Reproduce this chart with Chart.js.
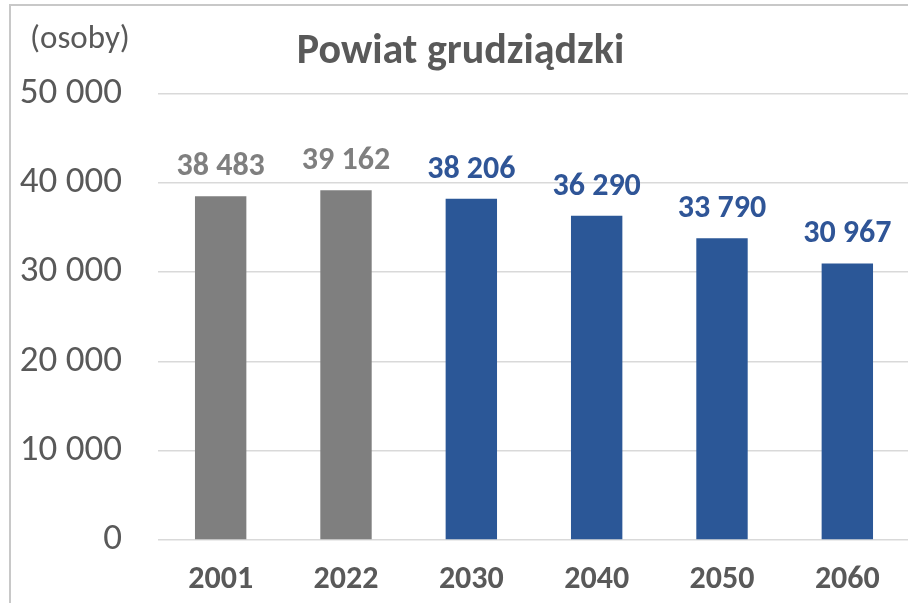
<!DOCTYPE html>
<html>
<head>
<meta charset="utf-8">
<script src="https://cdn.jsdelivr.net/npm/chart.js@4.4.1/dist/chart.umd.min.js"></script>
<style>
  html, body { margin: 0; padding: 0; background: #fff; overflow: hidden; width: 908px; height: 603px; }
  #frame {
    position: absolute; left: 9px; top: 4px; width: 920px; height: 620px;
    border-left: 2px solid #c8c8c8; border-top: 2px solid #c8c8c8;
  }
  #chart { position: absolute; left: 0; top: 0; }
</style>
</head>
<body>
<div id="frame">
  <canvas id="chart" width="908" height="597"></canvas>
</div>
<script>
// Population of Powiat grudziądzki, actual (2001, 2022) and projections
const years = ['2001', '2022', '2030', '2040', '2050', '2060'];
const population = [38483, 39162, 38206, 36290, 33790, 30967];
const isProjection = [false, false, true, true, true, true];
const yTicks = [0, 10000, 20000, 30000, 40000, 50000];

const grayBar = '#7f7f7f';
const blueBar = '#2b5797';
const grayText = '#595959';
const blueLabel = '#2f5597';
const fontFamily = "Carlito, Calibri, 'Open Sans', sans-serif";

function formatNum(v) {
    return String(v).replace(/\B(?=(\d{3})+(?!\d))/g, ' ');
}

// Value labels above bars + unit label in top left
const labelPlugin = {
    id: 'labels',
    afterDatasetsDraw(chart) {
        const ctx = chart.ctx;
        const meta = chart.getDatasetMeta(0);
        ctx.save();
        ctx.textAlign = 'center';
        ctx.textBaseline = 'middle';
        ctx.font = 'bold 32px ' + fontFamily;
        meta.data.forEach((bar, i) => {
            ctx.fillStyle = isProjection[i] ? blueLabel : grayBar;
            ctx.fillText(formatNum(population[i]), bar.x, bar.y - 29);
        });
        ctx.font = '33px ' + fontFamily;
        ctx.fillStyle = grayText;
        ctx.textAlign = 'left';
        ctx.fillText('(osoby)', 19, 34);
        ctx.restore();
    }
};

const ctx = document.getElementById('chart').getContext('2d');
new Chart(ctx, {
    type: 'bar',
    data: {
        labels: years,
        datasets: [{
            data: population,
            backgroundColor: isProjection.map(p => p ? blueBar : grayBar),
            barPercentage: 0.41,
            categoryPercentage: 1.0
        }]
    },
    options: {
        responsive: false,
        animation: false,
        devicePixelRatio: 1,
        layout: { padding: { left: 0, right: 9, top: 0, bottom: 7 } },
        plugins: {
            legend: { display: false },
            tooltip: { enabled: false },
            title: {
                display: true,
                text: 'Powiat grudziądzki',
                color: grayText,
                font: { family: fontFamily, size: 42, weight: 'bold' },
                padding: { top: 21, bottom: 16 }
            }
        },
        scales: {
            x: {
                afterFit(scale) { scale.height = 56; },
                grid: { display: false, drawTicks: false },
                border: { display: false },
                ticks: {
                    color: grayText,
                    padding: 21,
                    font: { family: fontFamily, size: 32, weight: 'bold' }
                }
            },
            y: {
                min: 0,
                max: 50000,
                afterBuildTicks(scale) {
                    scale.ticks = yTicks.map(v => ({ value: v }));
                },
                afterFit(scale) { scale.width = 147; },
                grid: { color: '#d9d9d9', lineWidth: 1.5, drawTicks: false },
                border: { display: false },
                ticks: {
                    color: grayText,
                    padding: 36,
                    font: { family: fontFamily, size: 37 },
                    callback: v => formatNum(v)
                }
            }
        }
    },
    plugins: [labelPlugin]
});
</script>
</body>
</html>
